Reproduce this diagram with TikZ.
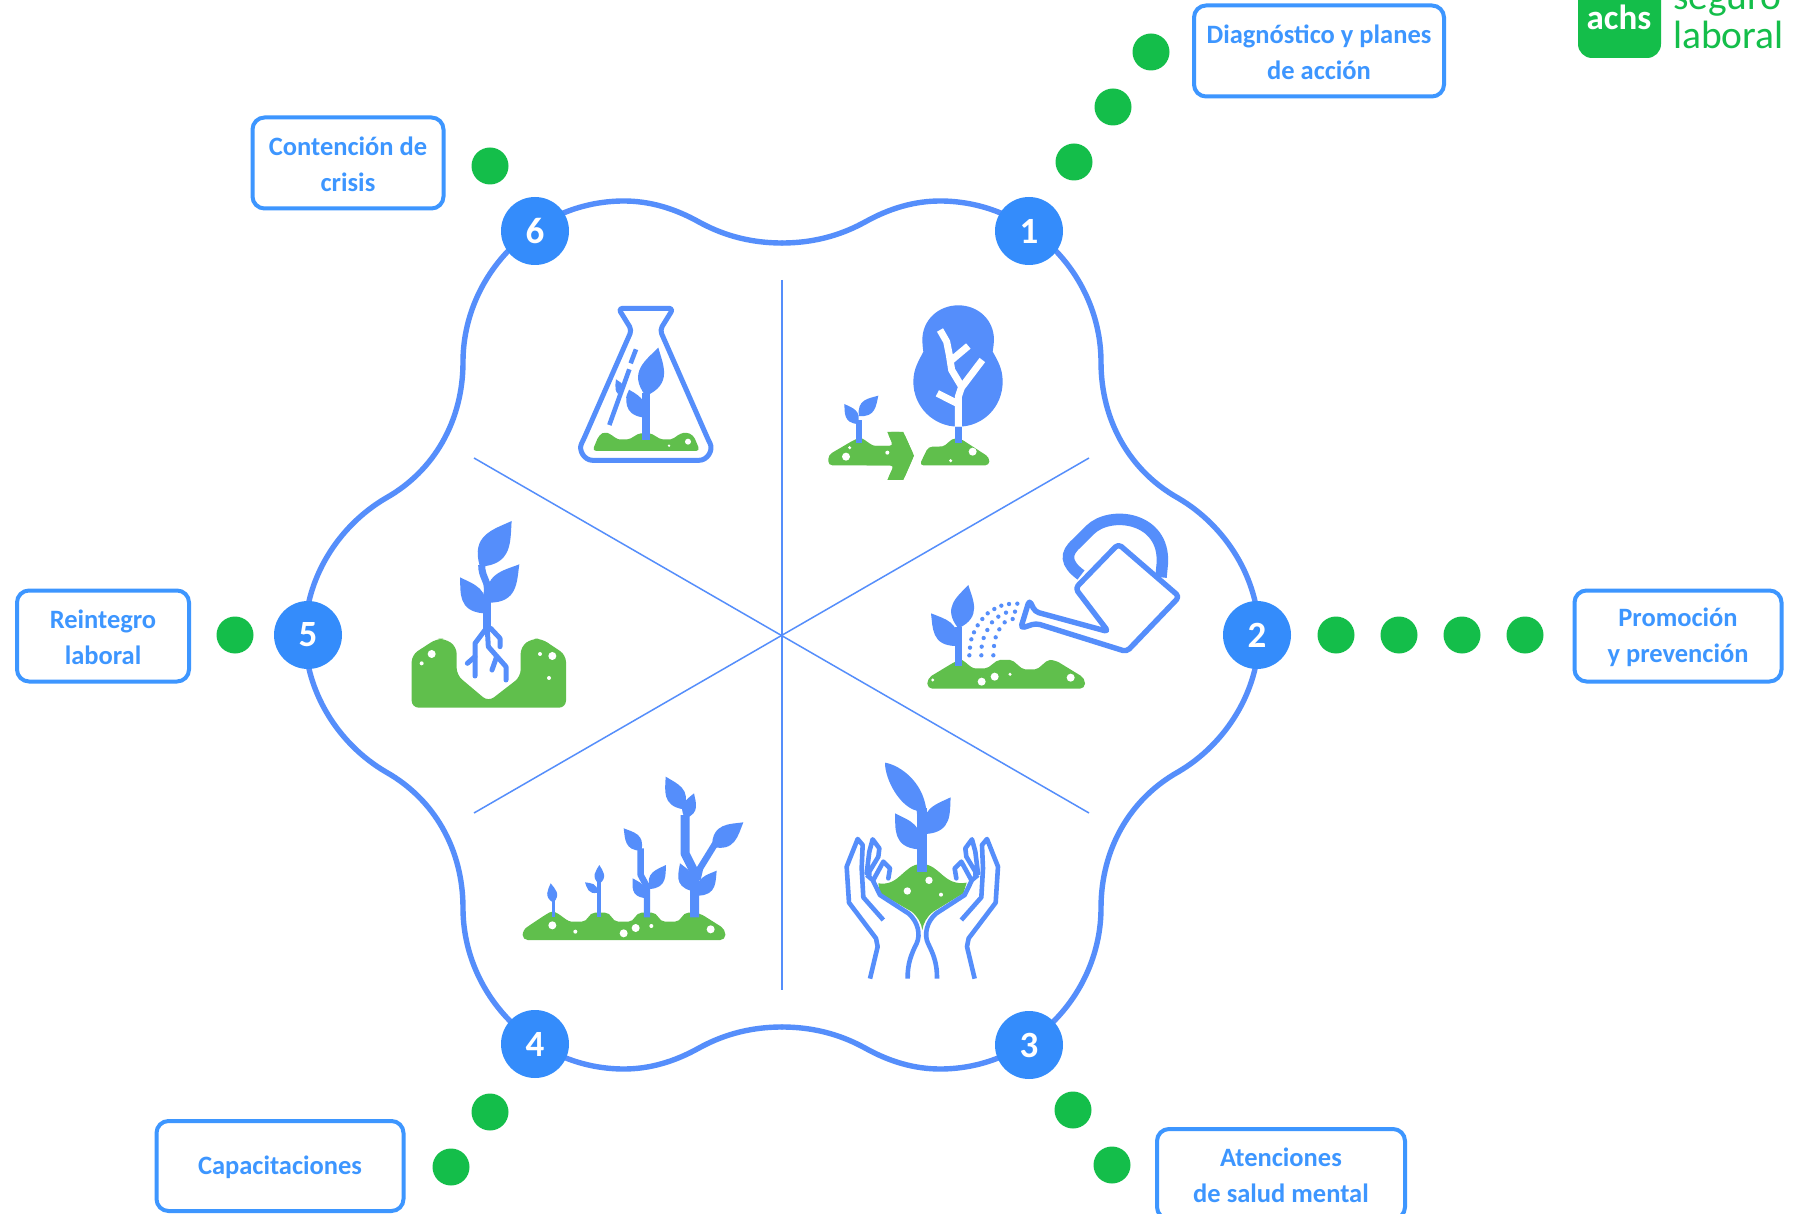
\documentclass[tikz,border=0pt]{standalone}
\usepackage{fontspec}
\setmainfont{Carlito}
\usetikzlibrary{calc}
\definecolor{lineblue}{HTML}{558EFB}
\definecolor{boxblue}{HTML}{3D96FF}
\definecolor{numblue}{HTML}{348CFB}
\definecolor{dotgreen}{HTML}{14BE4A}
\definecolor{soilgreen}{HTML}{60BF4C}
\tikzset{
	labelbox/.style={draw=boxblue, line width=4pt, rounded corners=12pt, inner sep=0pt},
	labeltext/.style={align=center, text=boxblue, inner sep=0pt, yshift=-1.5pt, font=\fontsize{26.5}{36.3}\selectfont\bfseries},
	numdot/.style={circle, fill=numblue, minimum size=68pt, inner sep=0pt, text=white, font=\fontsize{37}{37}\selectfont\bfseries},
	greendot/.style={circle, fill=dotgreen, minimum size=37pt, inner sep=0pt},
	root/.style={draw=lineblue, line join=round, line cap=round},
}
% hoja: base, punta
\newcommand{\leaf}[2]{\fill[lineblue] (#1) .. controls ($(#1)!.6!52:(#2)$) and ($(#2)!.35!-30:(#1)$) .. (#2) .. controls ($(#2)!.35!30:(#1)$) and ($(#1)!.6!-52:(#2)$) .. (#1) -- cycle;}
\newcommand{\spots}[1]{\foreach \x/\y/\r in {#1} \fill[white] (\x,\y) circle (\r);}

\begin{document}
\begin{tikzpicture}[x=1pt, y=-1pt]
	\useasboundingbox (0,0) rectangle (1797,1214);
	\clip (0,0) rectangle (1797,1214);
	\fill[white] (0,0) rectangle (1797,1214);
	% Contorno
	\coordinate (center) at (782,635);
	\foreach \sx/\sy in {1/1,-1/1,1/-1,-1/-1}
		\draw[lineblue, line width=5.4pt, line cap=round, shift={(center)}, xscale=\sx, yscale=\sy]
			(0,-392) .. controls (36,-392) and (63,-402) .. (83,-413)
			.. controls (108,-427) and (133,-434) .. (158,-434)
			.. controls (248,-434) and (319,-359) .. (319,-273)
			.. controls (319,-214) and (348,-164) .. (396,-137)
			.. controls (444,-109) and (477,-56) .. (477,0);
	% Divisiones
	\coordinate (topend) at (782,280);
	\coordinate (botend) at (782,990);
	\coordinate (tlend) at (474,458);
	\coordinate (brend) at (1089,813);
	\coordinate (trend) at (1089,458);
	\coordinate (blend) at (474,813);
	\draw[lineblue, line width=1.5pt] (topend) -- (botend);
	\draw[lineblue, line width=1.5pt] (tlend) -- (brend);
	\draw[lineblue, line width=1.5pt] (trend) -- (blend);
	% Icono 1: arbol
	\begin{scope}[shift={(800,280)}, scale=1/3]
		\fill[lineblue] (475,440) .. controls (400,440) and (340,380) .. (340,305) .. controls (340,265) and (358,240) .. (370,215)
			.. controls (368,200) and (367,190) .. (367,180) .. controls (367,120) and (415,76) .. (475,76)
			.. controls (535,76) and (582,120) .. (582,180) .. controls (582,190) and (580,200) .. (578,215)
			.. controls (592,240) and (608,265) .. (608,305) .. controls (608,380) and (550,440) .. (475,440) -- cycle;
		\draw[white, line width=7pt, line join=round] (475,440) -- (475,350) -- (485,320) -- (455,270) -- (448,225) -- (440,185) -- (420,150);
		\draw[white, line width=7pt] (475,372) -- (412,340);
		\draw[white, line width=7pt] (485,322) -- (547,240);
		\draw[white, line width=7pt] (455,240) -- (505,198);
		\fill[soilgreen, rounded corners=4pt] (358,556) -- (385,500) -- (415,500) .. controls (440,498) and (450,475) .. (480,475) -- (568,532) -- (568,556) -- cycle;
		\fill[lineblue] (465,440) rectangle (485,490);
		\fill[soilgreen, rounded corners=4pt] (85,556) -- (85,525) -- (165,478) .. controls (190,470) and (210,498) .. (240,498) -- (280,498) -- (262,456) -- (310,456) -- (342,527) -- (310,600) -- (262,600) -- (282,556) -- cycle;
		\fill[soilgreen] (262,456) -- (310,456) -- (342,527) -- (310,600) -- (262,600) -- (282,556) -- (200,556) -- (200,498) -- (280,498) -- cycle;
		\fill[lineblue] (167,420) rectangle (187,490);
		\leaf{173,432}{133,372}
		\leaf{177,408}{235,347}
		\spots{518/515/12,452/542/5,138/530/12,149/503/5,262/518/6}
	\end{scope}
	% Icono 2: regadera
	\begin{scope}[shift={(800,280)}, scale=1/3]
		\fill[soilgreen, rounded corners=5pt] (382,1226) -- (382,1195) -- (465,1145) .. controls (490,1135) and (510,1165) .. (540,1165) .. controls (570,1165) and (585,1140) .. (615,1140)
			.. controls (645,1140) and (660,1168) .. (690,1168) .. controls (720,1168) and (735,1140) .. (765,1140) -- (855,1195) -- (855,1226) -- cycle;
		\spots{398/1200/5,545/1205/12,584/1190/12,630/1183/5,812/1193/12}
		\fill[lineblue] (465,1040) rectangle (485,1157);
		\leaf{475,1045}{505,915}
		\leaf{468,1098}{393,1000}
		\foreach \x/\y in {508/1126,510/1103,514/1078,522/1057,533/1036,547/1017,563/1000,583/987,604/977,627/972,652/971,
			544/1126,545/1100,551/1074,562/1050,576/1027,595/1010,618/998,645/995,
			580/1126,582/1098,587/1072,598/1048,614/1027,638/1017}
			\fill[lineblue] (\x,\y) circle (6.5);
		\draw[lineblue, line width=11.5pt] (843,885) .. controls (795,850) and (795,820) .. (830,790) -- (870,750) .. controls (930,690) and (1095,710) .. (1087,850) -- (1083,892);
		\draw[lineblue, line width=5.4pt, line join=round, rounded corners=4pt, fill=white] (826,925) -- (955,792) -- (1138,950) -- (980,1115) -- (708,1030) -- (662,1045) -- (688,960) -- (705,995) -- (925,1055) -- cycle;
	\end{scope}
	% Icono 3: manos
	\newcommand{\handpath}{
		\draw[root, line width=4.6pt, line cap=butt] (1110,716) -- (1133,620) -- (1128,595) -- (1047,488) -- (1040,380) -- (1073,297) -- (1088,315) -- (1085,385) -- (1090,472) -- (1150,540);
		\draw[root, line width=4.6pt] (1100,400) -- (1108,335) -- (1118,298) -- (1138,325) -- (1135,350) -- (1108,395) -- (1108,405);
		\draw[root, line width=4.6pt] (1120,420) -- (1150,365) -- (1170,385) -- (1165,415);
		\draw[root, line width=4.6pt, line cap=butt] (1100,405) -- (1118,420) -- (1140,465) -- (1225,520) .. controls (1255,545) and (1262,585) .. (1250,610) .. controls (1235,640) and (1222,670) .. (1223,716);
	}
	\begin{scope}[shift={(500,740)}, scale=1/3]
		\fill[soilgreen] (1135,430) .. controls (1200,440) and (1210,372) .. (1265,372) .. controls (1320,372) and (1330,440) .. (1400,428) -- (1390,460) -- (1300,515) .. controls (1280,530) and (1270,550) .. (1267,570) .. controls (1264,550) and (1254,530) .. (1235,515) -- (1140,460) -- cycle;
		\spots{1222/453/11,1287/421/11,1323/464/6}
		\fill[lineblue] (1252,205) rectangle (1280,395);
		\fill[lineblue] (1155,68) .. controls (1200,75) and (1280,130) .. (1280,230) -- (1252,230) -- (1250,212) .. controls (1200,200) and (1155,120) .. (1155,68) -- cycle;
		\leaf{1278,282}{1352,172}
		\leaf{1254,328}{1185,220}
		\handpath
		\begin{scope}[shift={(2534,0)}, xscale=-1]
			\handpath
		\end{scope}
	\end{scope}
	% Icono 4: crecimiento
	\begin{scope}[shift={(500,740)}, scale=1/3]
		\fill[soilgreen, rounded corners=5pt] (68,600) -- (68,570) -- (135,525) .. controls (170,505) and (195,545) .. (230,545) .. controls (265,545) and (265,518) .. (300,518)
			.. controls (335,518) and (335,545) .. (370,545) .. controls (405,545) and (405,518) .. (440,518) .. controls (475,518) and (475,545) .. (510,545)
			.. controls (545,545) and (545,518) .. (580,518) -- (600,520) -- (676,568) -- (676,600) -- cycle;
		\spots{157/556/12,226/575/6,371/580/12,407/564/12,454/558/6,632/568/12}
		\fill[lineblue] (155,480) rectangle (165,532);
		\leaf{160,488}{152,430}
		\fill[lineblue] (291,425) rectangle (304,532);
		\leaf{298,432}{298,375}
		\leaf{293,458}{255,427}
		\draw[lineblue, line width=6.4pt, line join=round] (441,532) -- (441,440) -- (422,405) -- (422,325);
		\leaf{424,332}{371,265}
		\leaf{432,474}{398,415}
		\leaf{450,447}{498,375}
		\draw[lineblue, line width=9pt, line join=round] (584,532) -- (584,420) -- (580,390) -- (555,340) -- (555,225);
		\draw[lineblue, line width=6.5pt, line join=round] (592,420) -- (600,385) -- (645,312);
		\leaf{550,208}{497,110}
		\leaf{556,235}{582,160}
		\leaf{636,320}{730,247}
		\leaf{572,452}{540,370}
		\leaf{595,467}{650,392}
	\end{scope}
	% Icono 5: matraz
	\begin{scope}[shift={(400,280)}, scale=1/3]
		\draw[lineblue, line width=5pt, line join=round, rounded corners=4pt] (738,541) -- (590,541) .. controls (552,541) and (535,510) .. (550,480) -- (695,150) -- (655,85) -- (820,85) -- (780,150) -- (925,480) .. controls (940,510) and (923,541) .. (885,541) -- cycle;
		\fill[soilgreen, rounded corners=4pt] (577,513) -- (597,465) .. controls (625,450) and (645,478) .. (670,478) .. controls (695,478) and (710,460) .. (735,460) .. controls (760,460) and (775,478) .. (800,478) .. controls (825,478) and (840,450) .. (880,465) -- (900,513) -- cycle;
		\spots{864/485/9,807/497/4}
		\fill[lineblue] (727,340) rectangle (749,480);
		\leaf{737,348}{775,203}
		\leaf{727,412}{680,325}
		\leaf{672,350}{648,298}
		\draw[white, line width=8pt] (628,435) -- (684,305);
		\draw[lineblue, line width=4.6pt] (628,435) -- (688,268);
		\draw[lineblue, line width=4.6pt] (692,250) -- (708,208);
	\end{scope}
	% Icono 6: raices
	\begin{scope}[shift={(400,280)}, scale=1/3]
		\fill[soilgreen, rounded corners=7pt] (35,1283) -- (35,1125) -- (110,1076) -- (135,1076) -- (170,1100) -- (170,1185) -- (265,1265) -- (362,1190) -- (362,1100) -- (395,1076) -- (425,1076) -- (498,1125) -- (498,1283) -- cycle;
		\spots{95/1122/12,65/1150/6,457/1128/12,420/1122/6,447/1194/6}
		\fill[lineblue] (248,960) rectangle (274,1050);
		\draw[lineblue, line width=7pt] (245,855) .. controls (245,890) and (262,900) .. (262,925) -- (261,970);
		\leaf{240,860}{335,723}
		\leaf{266,968}{358,853}
		\leaf{250,1000}{180,892}
		\draw[root, line width=5pt] (255,1050) -- (225,1090) -- (225,1188);
		\draw[root, line width=5pt] (225,1130) -- (202,1150);
		\draw[root, line width=5pt] (262,1050) -- (265,1100) -- (318,1160) -- (318,1200);
		\draw[root, line width=5pt] (272,1045) -- (300,1075) -- (300,1100);
		\draw[root, line width=5pt] (290,1130) -- (276,1170);
	\end{scope}
	% Circulos numerados
	\node[numdot] (n1) at (1029,231) {1};
	\node[numdot] (n2) at (1257,635) {2};
	\node[numdot] (n3) at (1029,1045) {3};
	\node[numdot] (n4) at (535,1044) {4};
	\node[numdot] (n5) at (308,635) {5};
	\node[numdot] (n6) at (535,231) {6};
	% Puntos verdes
	\foreach \x/\y [count=\i] in {1074/162,1113/107,1151/52,1336/635,1399/635,1462/635,1525/635,1073/1110,1112/1165,490/1112,451/1167,235/635,490/166}
		\node[greendot] (g\i) at (\x,\y) {};
	% Etiquetas
	\node[labelbox, minimum width=250pt, minimum height=91pt] (diag) at (1319,51) {};
	\node[labeltext] (diagtxt) at (diag) {Diagnóstico y planes\\de acción};
	\node[labelbox, minimum width=191pt, minimum height=91pt] (crisis) at (348,163) {};
	\node[labeltext] (crisistxt) at (crisis) {Contención de\\crisis};
	\node[labelbox, minimum width=172pt, minimum height=91pt] (reint) at (103,636) {};
	\node[labeltext] (reinttxt) at (reint) {Reintegro\\laboral};
	\node[labelbox, minimum width=207pt, minimum height=91pt] (promo) at (1678,636) {};
	\node[labeltext] (promotxt) at (promo) {Promoción\\y prevención};
	\node[labelbox, minimum width=247pt, minimum height=90pt] (capac) at (280,1166) {};
	\node[labeltext] (capactxt) at (capac) {Capacitaciones};
	\node[labelbox, minimum width=248pt, minimum height=90pt] (salud) at (1281,1174) {};
	\node[labeltext] (saludtxt) at (salud) {Atenciones\\de salud mental};
	% Logo
	\fill[dotgreen, rounded corners=14pt] (1578,-30) rectangle (1661,58);
	\node[anchor=base, text=white, inner sep=0pt, font=\fontsize{35}{35}\selectfont\bfseries] (achs) at (1619,30) {achs};
	\node[anchor=base west, text=dotgreen, inner sep=0pt, font=\fontsize{39.5}{39.5}\selectfont] (seguro) at (1673,10) {seguro};
	\node[anchor=base west, text=dotgreen, inner sep=0pt, font=\fontsize{39.5}{39.5}\selectfont] (laboral) at (1673,49) {laboral};
\end{tikzpicture}
\end{document}
